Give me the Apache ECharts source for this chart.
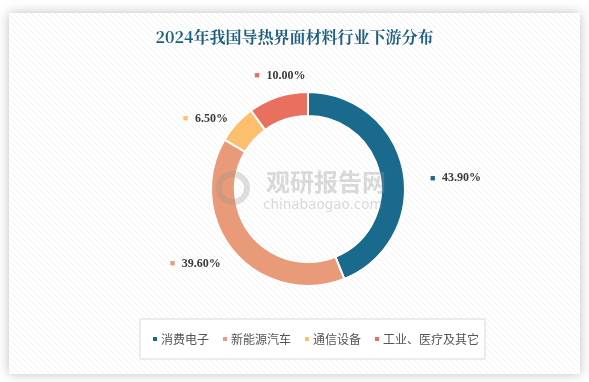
<!DOCTYPE html>
<html><head><meta charset="utf-8">
<script src="https://cdn.jsdelivr.net/npm/echarts@6/dist/echarts.min.js"></script>
<style>html,body{margin:0;padding:0;background:#fff;}#c{width:589px;height:382px;}</style>
</head><body><div id="c"></div>
<script>
const titleText = '2024年我国导热界面材料行业下游分布';
const categories = ['消费电子', '新能源汽车', '通信设备', '工业、医疗及其它'];
const values = [43.9, 39.6, 6.5, 10.0];
const colors = ['#1a6a8e', '#e99a79', '#fdbf6e', '#e96f5f'];

// stripe pattern
const pc = document.createElement('canvas');
pc.width = 6; pc.height = 6;
const pctx = pc.getContext('2d');
pctx.fillStyle = '#ffffff'; pctx.fillRect(0,0,6,6);
pctx.strokeStyle = '#f1f1f1'; pctx.lineWidth = 1;
pctx.beginPath(); pctx.moveTo(0,0); pctx.lineTo(6,6); pctx.stroke();
pctx.beginPath(); pctx.moveTo(-3,3); pctx.lineTo(3,9); pctx.stroke();
pctx.beginPath(); pctx.moveTo(3,-3); pctx.lineTo(9,3); pctx.stroke();

const chart = echarts.init(document.getElementById('c'), null, {renderer:'canvas'});
const labelShift = [[-16, 11], [25, 0], [30, 7], [58, -4]];
const data = categories.map((n, i) => ({
  name: n, value: values[i],
  itemStyle: {color: colors[i]},
  labelLine: {show: false, length: 18, length2: 20},
  label: {
    formatter: '{m|■}  {v|' + values[i].toFixed(2) + '%}',
    rich: {
      m: {color: colors[i], fontSize: 9},
      v: {color: '#3a3a3a', fontSize: 12, fontWeight: 'bold', fontFamily: 'Liberation Serif, serif'}
    }
  }
}));
chart.setOption({
  backgroundColor: '#ffffff',
  graphic: [
    {type: 'rect', z: -10, shape: {x: 9, y: 13, width: 571, height: 361},
     style: {fill: {image: pc, repeat: 'repeat'}, shadowBlur: 12, shadowColor: 'rgba(0,0,0,0.25)', shadowOffsetX: 0, shadowOffsetY: 0}},
    {type: 'text', z: 5, left: 266, top: 170,
     style: {text: '观研报告网', fill: 'rgba(150,150,150,0.35)', font: 'bold 24px "Noto Sans CJK SC"'}},
    {type: 'text', z: 5, left: 263, top: 198,
     style: {text: 'chinabaogao.com', fill: 'rgba(150,150,150,0.35)', font: '13.5px "DejaVu Sans"'}},
    {type: 'circle', z: 5, shape: {cx: 233, cy: 188, r: 14},
     style: {fill: 'none', stroke: 'rgba(150,150,150,0.3)', lineWidth: 6}}
  ],
  title: {
    text: titleText, left: 'center', top: 24,
    textStyle: {color: '#1d5f80', fontSize: 16, fontWeight: 'bold', fontFamily: 'Noto Serif CJK SC, Noto Sans CJK SC, serif'}
  },
  legend: {
    data: categories, top: 319, left: 140,
    itemWidth: 6, itemHeight: 6, itemGap: 12, icon: 'rect',
    borderColor: '#d9d9d9', borderWidth: 1, padding: [14, 6, 14, 11],
    backgroundColor: '#ffffff',
    textStyle: {color: '#555', fontSize: 12, fontFamily: 'Noto Sans CJK SC', padding: [0, 0, 0, -2]}
  },
  series: [{
    type: 'pie', center: [308, 189], radius: [73, 97],
    startAngle: 90, clockwise: true,
    itemStyle: {borderColor: '#fff', borderWidth: 2},
    label: {show: true, position: 'outside'},
    labelLayout: function (p) { return {dx: labelShift[p.dataIndex][0], dy: labelShift[p.dataIndex][1]}; },
    data: data
  }]
});
</script></body></html>
